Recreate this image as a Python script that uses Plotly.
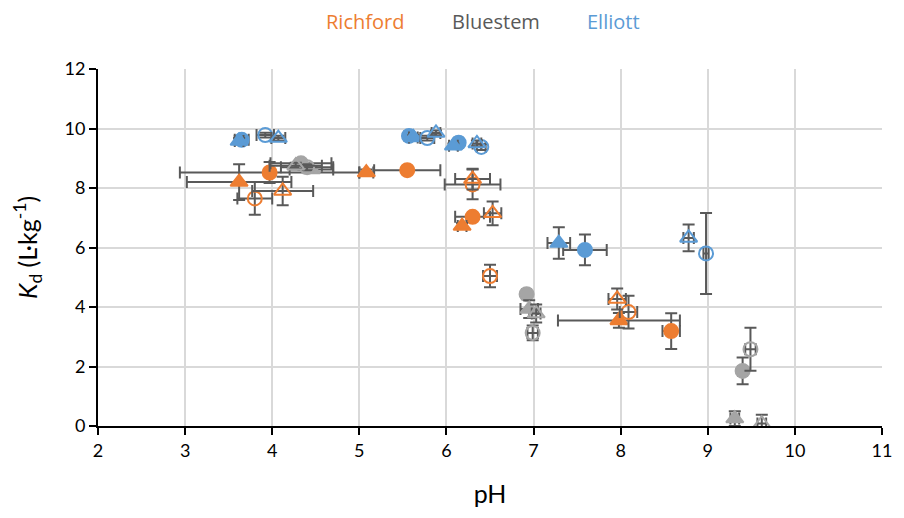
import plotly.graph_objects as go

# Sorption coefficient Kd versus soil pH for three soils.
# Symbols: fc = filled circle, oc = open circle, ft = filled triangle, ot = open triangle

RICHFORD_PH = [3.62, 3.97, 3.80, 4.12, 5.08, 5.55, 6.30, 6.30, 6.30, 6.18, 6.53, 6.50, 7.96, 8.09, 7.98, 8.58]
RICHFORD_KD = [8.20, 8.52, 7.65, 7.90, 8.52, 8.60, 8.30, 8.12, 7.03, 6.72, 7.15, 5.04, 4.27, 3.83, 3.55, 3.19]
RICHFORD_PH_ERR = [0.60, 1.03, 0.20, 0.35, 0.08, 0.38, 0.20, 0.32, 0.20, 0.05, 0.10, 0.08, 0.10, 0.10, 0.70, 0.10]
RICHFORD_KD_ERR = [0.60, 0.35, 0.55, 0.48, 0.10, 0.10, 0.35, 0.50, 0.10, 0.10, 0.40, 0.38, 0.35, 0.55, 0.25, 0.60]
RICHFORD_SYM = ["ft", "fc", "oc", "ot", "ft", "fc", "ot", "oc", "fc", "ft", "ot", "oc", "ot", "oc", "ft", "fc"]

BLUESTEM_PH = [4.27, 4.40, 4.33, 4.45, 6.92, 6.95, 7.03, 6.99, 9.40, 9.49, 9.31, 9.62]
BLUESTEM_KD = [8.75, 8.70, 8.83, 8.62, 4.43, 3.93, 3.78, 3.13, 1.85, 2.58, 0.25, 0.08]
BLUESTEM_PH_ERR = [0.30, 0.30, 0.35, 0.25, 0.05, 0.10, 0.05, 0.06, 0.05, 0.06, 0.05, 0.05]
BLUESTEM_KD_ERR = [0.10, 0.10, 0.10, 0.10, 0.10, 0.30, 0.30, 0.25, 0.45, 0.72, 0.25, 0.30]
BLUESTEM_SYM = ["ot", "oc", "fc", "ft", "fc", "ft", "ot", "oc", "fc", "oc", "ft", "ot"]

ELLIOTT_PH = [3.62, 3.65, 3.92, 4.07, 5.62, 5.57, 5.78, 5.88, 6.08, 6.14, 6.35, 6.40, 7.29, 7.59, 8.78, 8.98]
ELLIOTT_KD = [9.58, 9.62, 9.78, 9.68, 9.70, 9.75, 9.68, 9.85, 9.42, 9.52, 9.50, 9.38, 6.15, 5.92, 6.32, 5.80]
ELLIOTT_PH_ERR = [0.05, 0.08, 0.10, 0.08, 0.05, 0.05, 0.08, 0.05, 0.05, 0.05, 0.05, 0.05, 0.13, 0.25, 0.06, 0.03]
ELLIOTT_KD_ERR = [0.10, 0.10, 0.08, 0.08, 0.08, 0.08, 0.08, 0.08, 0.08, 0.08, 0.10, 0.10, 0.53, 0.52, 0.45, 1.36]
ELLIOTT_SYM = ["ft", "fc", "oc", "ot", "ft", "fc", "oc", "ot", "ft", "fc", "ot", "oc", "ft", "fc", "ot", "oc"]

SOILS = [
    ("Richford", "#ED7D31", RICHFORD_PH, RICHFORD_KD, RICHFORD_PH_ERR, RICHFORD_KD_ERR, RICHFORD_SYM),
    ("Bluestem", "#A5A5A5", BLUESTEM_PH, BLUESTEM_KD, BLUESTEM_PH_ERR, BLUESTEM_KD_ERR, BLUESTEM_SYM),
    ("Elliott", "#5B9BD5", ELLIOTT_PH, ELLIOTT_KD, ELLIOTT_PH_ERR, ELLIOTT_KD_ERR, ELLIOTT_SYM),
]
LEGEND_TEXT_COLORS = {"Richford": "#ED7D31", "Bluestem": "#595959", "Elliott": "#5B9BD5"}
LEGEND_X = {"Richford": 0.340, "Bluestem": 0.508, "Elliott": 0.657}

SYMBOLS = {
    "fc": ("circle", 14),
    "oc": ("circle-open", 14),
    "ft": ("triangle-up", 15),
    "ot": ("triangle-up-open", 15),
}
ERR_COLOR = "#595959"
FONT = "Lato, Open Sans, sans-serif"

fig = go.Figure()
for name, color, ph, kd, ph_err, kd_err, sym in SOILS:
    for key in ["fc", "ft", "oc", "ot"]:
        idx = [i for i, s in enumerate(sym) if s == key]
        if not idx:
            continue
        shape, size = SYMBOLS[key]
        fig.add_trace(go.Scatter(
            x=[ph[i] for i in idx],
            y=[kd[i] for i in idx],
            mode="markers",
            name=name,
            showlegend=False,
            marker=dict(symbol=shape, size=size, color=color,
                        line=dict(color=color, width=2)),
            error_x=dict(type="data", array=[ph_err[i] for i in idx], visible=True,
                         color=ERR_COLOR, thickness=2, width=6),
            error_y=dict(type="data", array=[kd_err[i] for i in idx], visible=True,
                         color=ERR_COLOR, thickness=2, width=6),
        ))

# Text-only legend above the plot area
for label in ["Richford", "Bluestem", "Elliott"]:
    fig.add_annotation(
        x=LEGEND_X[label], y=1.132, xref="paper", yref="paper",
        text=label, showarrow=False, xanchor="center", yanchor="middle",
        font=dict(size=20, color=LEGEND_TEXT_COLORS[label], family="Open Sans, sans-serif"),
    )

axis_common = dict(
    showgrid=True, gridcolor="#D9D9D9", gridwidth=2,
    showline=True, linecolor="#000000", linewidth=2,
    ticks="outside", ticklen=7, tickcolor="#000000", tickwidth=1.5,
    zeroline=False,
    tickfont=dict(size=18),
)

fig.update_layout(
    width=904, height=518,
    margin=dict(l=98, r=15, t=69, b=92),
    paper_bgcolor="white", plot_bgcolor="white",
    font=dict(family=FONT, color="#000000", size=16),
    xaxis=dict(
        range=[2, 11], dtick=1, tick0=2,
        title=dict(text="pH", font=dict(size=25), standoff=26),
        **axis_common,
    ),
    yaxis=dict(
        range=[0, 12], dtick=2, tick0=0,
        title=dict(text="<i>K</i><sub>d</sub> (L·kg<sup>-1</sup>)", font=dict(size=25), standoff=20),
        **axis_common,
    ),
)

fig.write_html("out.html")
